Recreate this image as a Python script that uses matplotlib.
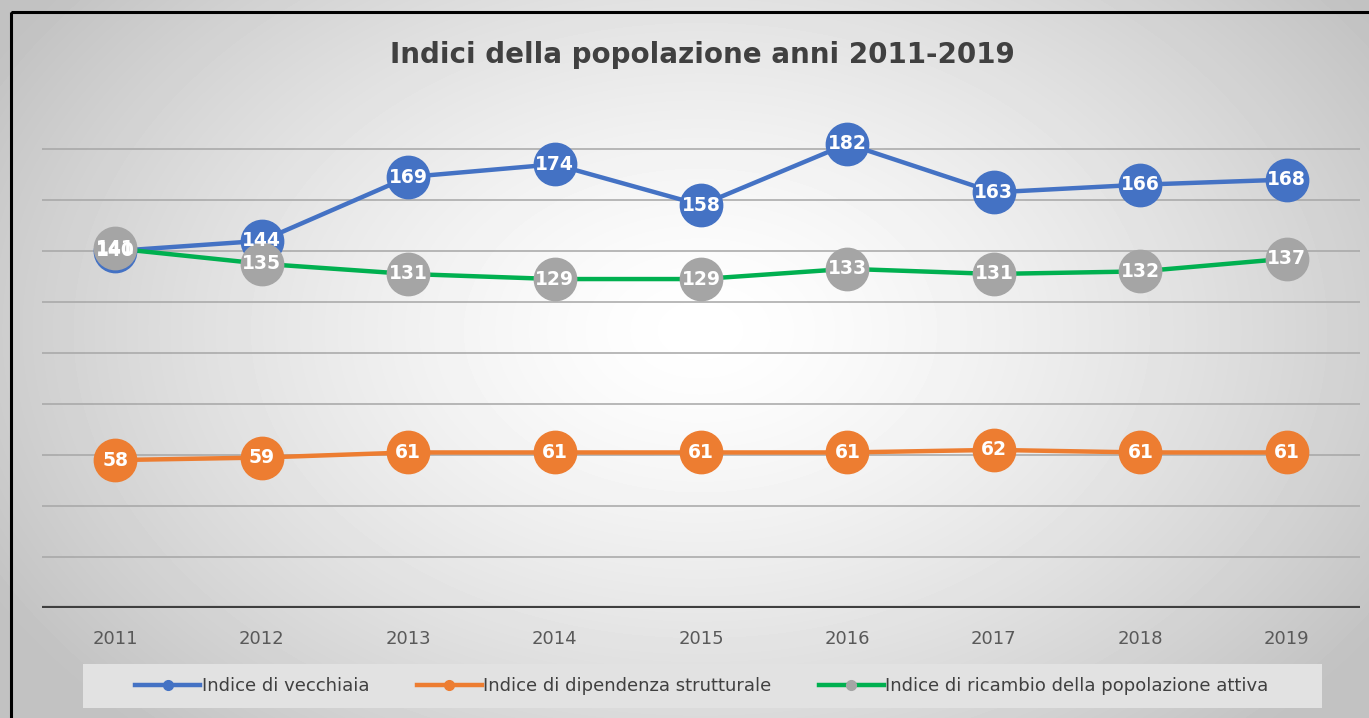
import numpy as np
import matplotlib
matplotlib.use("Agg")
import matplotlib.pyplot as plt
from matplotlib.lines import Line2D
from matplotlib.patches import Rectangle

# Data.
anni = ["2011", "2012", "2013", "2014", "2015", "2016", "2017", "2018", "2019"]
vecchiaia = [140, 144, 169, 174, 158, 182, 163, 166, 168]
dipendenza = [58, 59, 61, 61, 61, 61, 62, 61, 61]
ricambio = [141, 135, 131, 129, 129, 133, 131, 132, 137]
nomi = ["Indice di vecchiaia", "Indice di dipendenza strutturale",
        "Indice di ricambio della popolazione attiva"]

W, H = 1369, 718
fig = plt.figure(figsize=(W / 100, H / 100), dpi=100)

# Radial gradient background.
bg = fig.add_axes([0, 0, 1, 1], zorder=-10)
yy, xx = np.mgrid[0:H, 0:W]
r = np.sqrt(((xx - 700) / 760.0) ** 2 + ((yy - 330) / 520.0) ** 2)
val = np.clip(1.0 - 0.22 * r ** 1.4, 0.76, 1.0)
bg.imshow(val, cmap="gray", vmin=0, vmax=1, aspect="auto", extent=[0, W, H, 0])
bg.set_xlim(0, W)
bg.set_ylim(H, 0)
bg.axis("off")
bg.add_patch(Rectangle((11, 12), W + 20, H + 20, fill=False, edgecolor="black", linewidth=2.2))

ax = fig.add_axes([42 / W, (H - 608) / H, 1318 / W, 510 / H])
ax.patch.set_alpha(0)
x = np.arange(len(anni))

for yv in range(20, 200, 20):
    ax.axhline(yv, color="#a6a6a6", linewidth=1.1, zorder=1)
ax.axhline(0, color="#3f3f3f", linewidth=3, zorder=2)

serie = [
    (vecchiaia, "#4472C4", "#4472C4"),
    (dipendenza, "#ED7D31", "#ED7D31"),
    (ricambio, "#00B050", "#A5A5A5"),
]
for vals, lc, mc in serie:
    ax.plot(x, vals, color=lc, linewidth=3.2, zorder=3)
for vals, lc, mc in serie:
    ax.plot(x, vals, linestyle="none", marker="o", markersize=30.5,
            markerfacecolor=mc, markeredgecolor=mc, zorder=4)
for vals, lc, mc in serie:
    for xi, v in zip(x, vals):
        ax.text(xi, v, str(v), ha="center", va="center", color="white",
                fontsize=13.5, fontweight="bold", zorder=6)

ax.set_xlim(-0.5, len(anni) - 0.5)
ax.set_ylim(0, 200)
ax.set_yticks([])
ax.set_xticks(x)
ax.set_xticklabels(anni, fontsize=13, color="#595959")
ax.tick_params(axis="x", length=0, pad=16)
for s in ax.spines.values():
    s.set_visible(False)

fig.text(702 / W, 1 - 55 / H, "Indici della popolazione anni 2011-2019",
         ha="center", va="center", fontsize=20, fontweight="bold", color="#404040")

# Legend box.
bg.add_patch(Rectangle((83, 664), 1239, 44, facecolor="#e2e2e2", edgecolor="none", zorder=1))
handles = [Line2D([0], [0], color=lc, linewidth=3.2, marker="o", markersize=7,
                  markerfacecolor=mc, markeredgecolor=mc) for _, lc, mc in serie]
fig.legend(handles, nomi, loc="center", bbox_to_anchor=(702 / W, 1 - 686 / H),
           ncol=3, frameon=False, fontsize=13, handlelength=3.6, handletextpad=0.1,
           columnspacing=2.6, labelcolor="#404040")

fig.savefig("out.png", dpi=100)
